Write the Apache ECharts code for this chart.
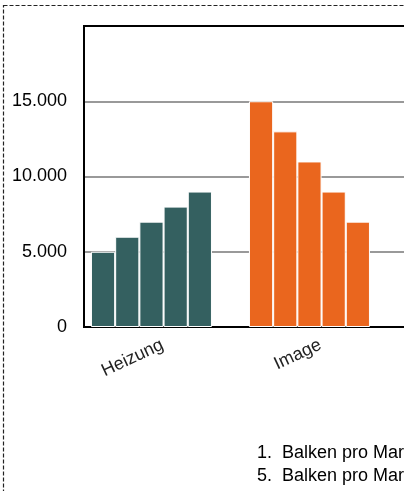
<!DOCTYPE html>
<html>
<head>
<meta charset="utf-8">
<script src="https://cdn.jsdelivr.net/npm/echarts@6/dist/echarts.min.js"></script>
<style>
  html, body { margin: 0; padding: 0; overflow: hidden; background: #fff; }
  #chart { width: 1000px; height: 491px; }
</style>
</head>
<body>
<div id="chart"></div>
<script>
const categories = ['Heizung', 'Image']
const categoryColors = ['#346060', '#ea661e']
const barNames = ['1. Balken pro Markt', '2. Balken pro Markt', '3. Balken pro Markt', '4. Balken pro Markt', '5. Balken pro Markt']
const heizung = [5000, 6000, 7000, 8000, 9000]
const image = [15000, 13000, 11000, 9000, 7000]

const chart = echarts.init(document.getElementById('chart'))
const font = 'Liberation Sans, Arial, sans-serif'

// x ist eine Werteachse, damit die Gruppen wie im Original nicht mittig in der Kategorie liegen
const xMin = -0.427
const gridWidth = 400
const unit = 158

const series = barNames.map((name, i) => ({
  type: 'bar',
  name: name,
  barWidth: 24.2,
  barGap: '0%',
  itemStyle: { borderColor: '#fff', borderWidth: 1 },
  data: [heizung[i], image[i]].map((v, c) => ({
    value: [c, v],
    itemStyle: { color: categoryColors[c] }
  }))
}))

const option = {
  animation: false,
  textStyle: { fontFamily: font },
  grid: {
    left: 84,
    top: 26,
    width: gridWidth,
    bottom: 164,
    show: true,
    borderColor: '#000',
    borderWidth: 2
  },
  legend: {
    data: barNames,
    left: 251,
    top: 444,
    width: 740,
    padding: 0,
    itemGap: 5,
    itemWidth: 0,
    itemHeight: 0,
    formatter: (n) => n.replace('. ', '.\u00a0\u00a0'),
    textStyle: { fontSize: 18, color: '#000', fontFamily: font }
  },
  xAxis: {
    type: 'value',
    min: xMin,
    max: xMin + gridWidth / unit,
    splitLine: { show: false },
    axisTick: { show: false },
    axisLine: { show: true, onZero: false, lineStyle: { color: '#000', width: 2 } },
    axisLabel: {
      customValues: [0.07, 1.07],
      formatter: (v) => categories[Math.round(v)],
      rotate: 25,
      margin: 17,
      fontSize: 18,
      color: '#222',
      fontFamily: font
    }
  },
  yAxis: {
    type: 'value',
    min: 0,
    max: 20000,
    interval: 5000,
    axisLine: { show: true, onZero: false, lineStyle: { color: '#000', width: 2 } },
    axisTick: { show: false },
    // oberste Linie ist der schwarze Rahmen
    splitLine: { lineStyle: { color: ['#999', '#999', '#999', '#999', '#000'], width: 2 } },
    axisLabel: {
      margin: 17,
      fontSize: 18,
      color: '#000',
      fontFamily: font,
      formatter: (v) => (v === 20000 ? '' : v.toString().replace(/\B(?=(\d{3})+(?!\d))/g, '.'))
    }
  },
  graphic: [
    {
      type: 'rect',
      shape: { x: 3.5, y: 5.5, width: 2000, height: 2000 },
      style: { fill: 'none', stroke: '#222', lineWidth: 1.2, lineDash: [4, 2] },
      silent: true
    }
  ],
  series: series
}

chart.setOption(option)
</script>
</body>
</html>
